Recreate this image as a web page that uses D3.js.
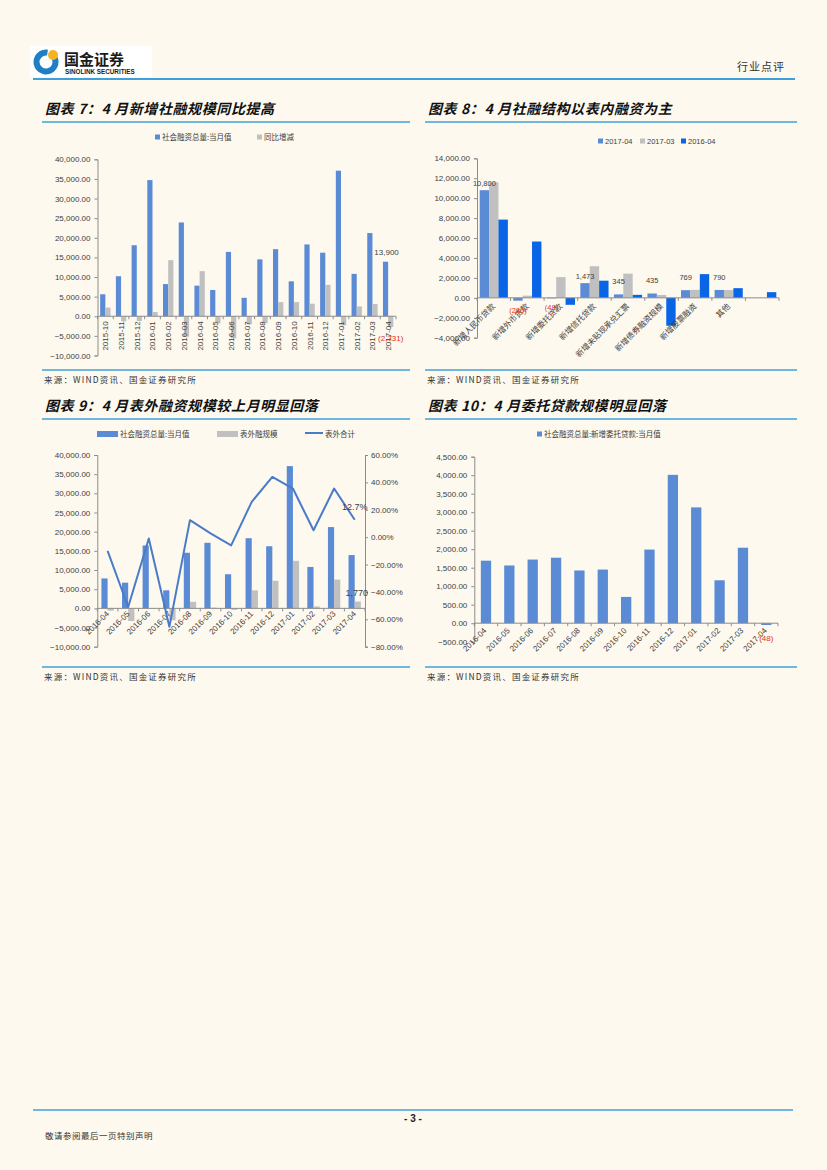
<!DOCTYPE html>
<html>
<head>
<meta charset="utf-8">
<script src="https://cdn.jsdelivr.net/npm/d3@7"></script>
<style>
body {margin:0; background:#fdf9ef;}
svg {display:block;}
</style>
</head>
<body>
<div id="page"></div>
<script>
// ---- data ----
const months7 = ["2015-10","2015-11","2015-12","2016-01","2016-02","2016-03","2016-04","2016-05","2016-06","2016-07",
                 "2016-08","2016-09","2016-10","2016-11","2016-12","2017-01","2017-02","2017-03","2017-04"];
const tsf7 = [5600,10200,18100,34700,8200,23900,7800,6700,16400,4700,14500,17100,8900,18300,16200,37100,10800,21200,13900];
const yoy7 = [2200,-1300,-1200,1100,14300,-5200,11500,-1800,-5600,-2000,-1800,3600,3600,3200,8000,-2300,2500,3100,-2731];
const ticks7 = [-10000,-5000,0,5000,10000,15000,20000,25000,30000,35000,40000];

const cats8 = ["新增人民币贷款","新增外币贷款","新增委托贷款","新增信托贷款","新增未贴现承兑汇票","新增债券融资规模","新增股票融资","其他",""];
const apr17 = [10800,-286,-48,1473,345,435,769,790,0];
const mar17 = [11600,220,2080,3170,2430,290,800,780,0];
const apr16 = [7850,5650,-700,1720,300,-2800,2380,970,570];
const ticks8 = [-4000,-2000,0,2000,4000,6000,8000,10000,12000,14000];

const months9 = ["2016-04","2016-05","2016-06","2016-07","2016-08","2016-09","2016-10","2016-11","2016-12","2017-01","2017-02","2017-03","2017-04"];
const tsf9 = [7800,6700,16400,4700,14500,17100,8900,18300,16200,37100,10800,21200,13900];
const offbs9 = [-600,-3300,100,-3100,1700,200,-400,4700,7200,12400,500,7500,1770];
const offpct9 = [-10,-51,-1,-65.5,12.4,2.7,-6,25.8,44,35.5,5,35.5,12.7];
const ticks9L = [-10000,-5000,0,5000,10000,15000,20000,25000,30000,35000,40000];
const ticks9R = [-80,-60,-40,-20,0,20,40,60];

const months10 = months9;
const entrust10 = [1690,1560,1720,1770,1425,1450,710,1990,4010,3130,1160,2040,-48];
const ticks10 = [-500,0,500,1000,1500,2000,2500,3000,3500,4000,4500];

// ---- colours ----
const blue = "#5b8bd5", grey = "#c0c0c0", blue2 = "#0a64e6", lineBlue = "#4a7bc8";
const rule = "#3ea0da", red = "#e0302a", axisGrey = "#8c8c8c", txt = "#404040";
const cjk = "'Noto Sans CJK SC', sans-serif";
const num = "'Liberation Sans', Arial, sans-serif";

const svg = d3.select("#page").append("svg")
    .attr("width", 827).attr("height", 1170);

svg.append("rect").attr("width", 827).attr("height", 1170).attr("fill", "#fdf9ef");

// ---- header ----
svg.append("rect").attr("x", 30).attr("y", 46).attr("width", 122).attr("height", 31).attr("fill", "#ffffff");
const arc = d3.arc().innerRadius(6.5).outerRadius(12.5).startAngle(0.35 * Math.PI).endAngle(2.05 * Math.PI);
svg.append("path").attr("d", arc()).attr("transform", "translate(46,62)").attr("fill", "#1f7ec4");
svg.append("circle").attr("cx", 53).attr("cy", 55).attr("r", 5).attr("fill", "#f2b420");
svg.append("text").attr("x", 64).attr("y", 65).text("国金证券")
    .attr("font-family", cjk).attr("font-weight", "bold").attr("font-size", 15).attr("fill", "#1a1a1a");
svg.append("text").attr("x", 65).attr("y", 74).text("SINOLINK SECURITIES")
    .attr("font-family", num).attr("font-weight", "bold").attr("font-size", 6.3).attr("fill", "#1a1a1a");
svg.append("text").attr("x", 785).attr("y", 71).attr("text-anchor", "end").text("行业点评")
    .attr("font-family", cjk).attr("font-size", 11).attr("letter-spacing", 1).attr("fill", "#333");
svg.append("line").attr("x1", 33).attr("x2", 795).attr("y1", 79).attr("y2", 79)
    .attr("stroke", rule).attr("stroke-width", 2);

// ---- footer ----
svg.append("line").attr("x1", 33).attr("x2", 793).attr("y1", 1110).attr("y2", 1110)
    .attr("stroke", rule).attr("stroke-width", 1.5);
svg.append("text").attr("x", 413).attr("y", 1122).attr("text-anchor", "middle").text("- 3 -")
    .attr("font-family", num).attr("font-weight", "bold").attr("font-size", 10).attr("fill", "#222");
svg.append("text").attr("x", 45).attr("y", 1139).text("敬请参阅最后一页特别声明")
    .attr("font-family", cjk).attr("font-size", 8.5).attr("letter-spacing", 0.5).attr("fill", "#333");

// ---- titles / sources ----
function title(x, y, x2, label) {
    svg.append("text").attr("x", x).attr("y", y).text(label)
        .attr("font-family", cjk).attr("font-weight", "bold").attr("font-style", "italic")
        .attr("font-size", 14).attr("letter-spacing", 0.6).attr("fill", "#111");
    svg.append("line").attr("x1", x - 3).attr("x2", x2).attr("y1", y + 8).attr("y2", y + 8)
        .attr("stroke", rule).attr("stroke-width", 1.5);
}
function source(x, y, x2) {
    svg.append("line").attr("x1", x - 3).attr("x2", x2).attr("y1", y - 13).attr("y2", y - 13)
        .attr("stroke", rule).attr("stroke-width", 1.5);
    svg.append("text").attr("x", x - 1).attr("y", y).text("来源：WIND资讯、国金证券研究所")
        .attr("font-family", cjk).attr("font-size", 8.5).attr("letter-spacing", 1.2).attr("fill", "#333");
}
title(45, 114, 410, "图表 7：4 月新增社融规模同比提高");
title(428, 114, 797, "图表 8：4 月社融结构以表内融资为主");
title(45, 411, 410, "图表 9：4 月表外融资规模较上月明显回落");
title(428, 411, 797, "图表 10：4 月委托贷款规模明显回落");
source(45, 383, 410);
source(428, 383, 797);
source(45, 680, 410);
source(428, 680, 797);

// ---- shared helpers ----
function styleAxis(g) {
    g.attr("font-family", num).attr("font-size", 8);
    g.selectAll("path, line").attr("stroke", axisGrey);
    g.selectAll("text").attr("fill", txt);
}
function catAxis(x, y0, labels, rotate, dx, dy) {
    const r = x.range();
    svg.append("line").attr("x1", r[0]).attr("x2", r[1]).attr("y1", y0).attr("y2", y0).attr("stroke", axisGrey);
    const n = x.domain().length;
    svg.append("g").selectAll("line").data(d3.range(n + 1)).enter().append("line")
        .attr("x1", (i) => r[0] + i * x.step()).attr("x2", (i) => r[0] + i * x.step())
        .attr("y1", y0).attr("y2", y0 + 3).attr("stroke", axisGrey);
    svg.append("g").selectAll("text").data(labels).enter().append("text")
        .attr("transform", (d) => "translate(" + (x(d) + x.bandwidth() / 2 + dx) + "," + (y0 + dy) + ") rotate(" + rotate + ")")
        .attr("text-anchor", "end")
        .attr("font-family", (d) => /[\u4e00-\u9fff]/.test(d) ? cjk : num)
        .attr("font-size", 8).attr("fill", txt)
        .text((d) => d);
}
function legendBox(x, y, color, label, w, h) {
    svg.append("rect").attr("x", x).attr("y", y - h / 2 - 2).attr("width", w).attr("height", h).attr("fill", color);
    svg.append("text").attr("x", x + w + 2).attr("y", y + 1).text(label)
        .attr("font-family", /[\u4e00-\u9fff]/.test(label) ? cjk : num).attr("font-size", 7.5).attr("fill", txt);
}

// ================= chart 7 =================
{
    const x = d3.scaleBand().domain(months7).range([97.5, 396]).paddingInner(0.34).paddingOuter(0.17);
    const x1 = d3.scaleBand().domain(["a", "b"]).range([0, x.bandwidth()]);
    const y = d3.scaleLinear().domain([-10000, 40000]).range([355.5, 159.3]);

    svg.append("g").attr("transform", "translate(97.5,0)")
        .call(d3.axisLeft(y).tickValues(ticks7).tickFormat(d3.format(",.2f")).tickSize(3).tickPadding(4))
        .call(styleAxis);

    const rows = months7.map((m, i) => ({m: m, a: tsf7[i], b: yoy7[i]}));
    svg.append("g").selectAll("rect").data(rows).enter().append("rect")
        .attr("x", (d) => x(d.m) + x1("a")).attr("width", x1.bandwidth())
        .attr("y", (d) => y(Math.max(0, d.a))).attr("height", (d) => Math.abs(y(d.a) - y(0)))
        .attr("fill", blue);
    svg.append("g").selectAll("rect").data(rows).enter().append("rect")
        .attr("x", (d) => x(d.m) + x1("b")).attr("width", x1.bandwidth())
        .attr("y", (d) => y(Math.max(0, d.b))).attr("height", (d) => Math.abs(y(d.b) - y(0)))
        .attr("fill", grey);

    catAxis(x, y(0), months7, -90, 3, 5);

    const last = rows[rows.length - 1];
    svg.append("text").attr("x", x(last.m) + x1("a") + x1.bandwidth() / 2 + 1).attr("y", y(last.a) - 7)
        .attr("text-anchor", "middle").attr("font-family", num).attr("font-size", 8).attr("fill", txt)
        .text(d3.format(",")(last.a));
    svg.append("text").attr("x", x(last.m) + x1("b") + x1.bandwidth() / 2).attr("y", y(last.b) + 14)
        .attr("text-anchor", "middle").attr("font-family", num).attr("font-size", 8).attr("fill", red)
        .text("(" + d3.format(",")(-last.b) + ")");

    legendBox(155, 139, blue, "社会融资总量:当月值", 5, 5);
    legendBox(257, 139, grey, "同比增减", 5, 5);
}

// ================= chart 8 =================
{
    const x = d3.scaleBand().domain(cats8).range([477, 779]).paddingInner(0.16).paddingOuter(0.08);
    const x1 = d3.scaleBand().domain(["apr17", "mar17", "apr16"]).range([0, x.bandwidth()]);
    const y = d3.scaleLinear().domain([-4000, 14000]).range([337.7, 158.3]);

    svg.append("g").attr("transform", "translate(477,0)")
        .call(d3.axisLeft(y).tickValues(ticks8).tickFormat(d3.format(",.2f")).tickSize(3).tickPadding(4))
        .call(styleAxis);

    const series = [["apr17", apr17, blue], ["mar17", mar17, grey], ["apr16", apr16, blue2]];
    series.forEach((s) => {
        svg.append("g").selectAll("rect").data(cats8).enter().append("rect")
            .attr("x", (d) => x(d) + x1(s[0])).attr("width", x1.bandwidth())
            .attr("y", (d, i) => y(Math.max(0, s[1][i]))).attr("height", (d, i) => Math.abs(y(s[1][i]) - y(0)))
            .attr("fill", s[2]);
    });

    catAxis(x, y(0), cats8, -45, 2, 9);

    svg.append("g").selectAll("text").data(cats8.slice(0, 8)).enter().append("text")
        .attr("x", (d) => x(d) + x1("apr17") + x1.bandwidth() / 2)
        .attr("y", (d, i) => apr17[i] >= 0 ? y(apr17[i]) - 4 - (apr17[i] < 1000 ? 6 : 0) : y(apr17[i]) + 12)
        .attr("text-anchor", "middle").attr("font-family", num).attr("font-size", 7.5)
        .attr("fill", (d, i) => apr17[i] < 0 ? red : txt)
        .text((d, i) => apr17[i] < 0 ? "(" + d3.format(",")(-apr17[i]) + ")" : d3.format(",")(apr17[i]));

    legendBox(598, 143, blue, "2017-04", 5, 5);
    legendBox(640, 143, grey, "2017-03", 5, 5);
    legendBox(681, 143, blue2, "2016-04", 5, 5);
}

// ================= chart 9 =================
{
    const x = d3.scaleBand().domain(months9).range([97.3, 365]).paddingInner(0.4).paddingOuter(0.2);
    const x1 = d3.scaleBand().domain(["a", "b"]).range([0, x.bandwidth()]);
    const y = d3.scaleLinear().domain([-10000, 40000]).range([646.7, 455]);
    const yr = d3.scaleLinear().domain([-80, 60]).range([646.7, 455]);

    svg.append("g").attr("transform", "translate(97.3,0)")
        .call(d3.axisLeft(y).tickValues(ticks9L).tickFormat(d3.format(",.2f")).tickSize(3).tickPadding(4))
        .call(styleAxis);
    svg.append("g").attr("transform", "translate(365,0)")
        .call(d3.axisRight(yr).tickValues(ticks9R).tickFormat((d) => d3.format(".2f")(d) + "%").tickSize(3).tickPadding(3))
        .call(styleAxis);

    const rows = months9.map((m, i) => ({m: m, a: tsf9[i], b: offbs9[i], p: offpct9[i]}));
    svg.append("g").selectAll("rect").data(rows).enter().append("rect")
        .attr("x", (d) => x(d.m) + x1("a")).attr("width", x1.bandwidth())
        .attr("y", (d) => y(Math.max(0, d.a))).attr("height", (d) => Math.abs(y(d.a) - y(0)))
        .attr("fill", blue);
    svg.append("g").selectAll("rect").data(rows).enter().append("rect")
        .attr("x", (d) => x(d.m) + x1("b")).attr("width", x1.bandwidth())
        .attr("y", (d) => y(Math.max(0, d.b))).attr("height", (d) => Math.abs(y(d.b) - y(0)))
        .attr("fill", grey);

    catAxis(x, y(0), months9, -45, 2, 6);

    const line = d3.line().x((d) => x(d.m) + x.bandwidth() / 2).y((d) => yr(d.p));
    svg.append("path").datum(rows).attr("d", line).attr("fill", "none")
        .attr("stroke", lineBlue).attr("stroke-width", 2).attr("stroke-linejoin", "round");

    const last = rows[rows.length - 1];
    svg.append("text").attr("x", x(last.m) + x.bandwidth() / 2).attr("y", yr(last.p) - 10)
        .attr("text-anchor", "middle").attr("font-family", num).attr("font-size", 9).attr("fill", txt)
        .text(last.p.toFixed(1) + "%");
    svg.append("text").attr("x", x(last.m) + x1("b") + x1.bandwidth() / 2 - 1).attr("y", y(last.b) - 6)
        .attr("text-anchor", "middle").attr("font-family", num).attr("font-size", 9).attr("fill", txt)
        .text(d3.format(",")(last.b));

    legendBox(97, 436, blue, "社会融资总量:当月值", 21, 6);
    legendBox(217, 436, grey, "表外融规模", 21, 6);
    svg.append("line").attr("x1", 305).attr("x2", 323).attr("y1", 433).attr("y2", 433)
        .attr("stroke", lineBlue).attr("stroke-width", 2);
    svg.append("text").attr("x", 325).attr("y", 437).text("表外合计")
        .attr("font-family", cjk).attr("font-size", 7.5).attr("fill", txt);
}

// ================= chart 10 =================
{
    const x = d3.scaleBand().domain(months10).range([474.3, 778]).paddingInner(0.56).paddingOuter(0.28);
    const y = d3.scaleLinear().domain([-500, 4500]).range([641.7, 456.7]);

    svg.append("g").attr("transform", "translate(474.3,0)")
        .call(d3.axisLeft(y).tickValues(ticks10).tickFormat(d3.format(",.2f")).tickSize(3).tickPadding(4))
        .call(styleAxis);

    svg.append("g").selectAll("rect").data(months10).enter().append("rect")
        .attr("x", (d) => x(d)).attr("width", x.bandwidth())
        .attr("y", (d, i) => y(Math.max(0, entrust10[i]))).attr("height", (d, i) => Math.abs(y(entrust10[i]) - y(0)))
        .attr("fill", blue);

    catAxis(x, y(0), months10, -45, 1, 8);

    const n = months10.length - 1;
    svg.append("text").attr("x", x(months10[n]) + x.bandwidth() / 2).attr("y", y(entrust10[n]) + 16)
        .attr("text-anchor", "middle").attr("font-family", num).attr("font-size", 8).attr("fill", red)
        .text("(" + (-entrust10[n]) + ")");

    legendBox(537, 436, blue, "社会融资总量:新增委托贷款:当月值", 5, 5);
}
</script>
</body>
</html>
